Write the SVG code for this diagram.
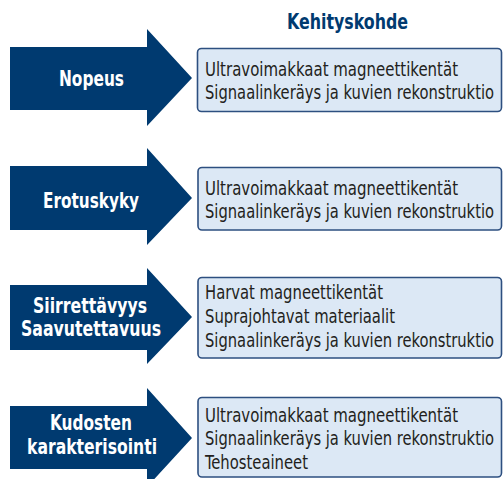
<svg xmlns="http://www.w3.org/2000/svg" width="503" height="479" viewBox="0 0 503 479">
<style>
.arrow{fill:#003a70}
.box{fill:#dce8f5;stroke:#2d4f80;stroke-width:1.6}
.lbl{font-family:"Liberation Sans Narrow","DejaVu Sans Condensed","Liberation Sans",sans-serif;font-weight:bold;font-size:22px;fill:#ffffff;text-anchor:middle}
.item{font-family:"Liberation Sans Narrow","DejaVu Sans Condensed","Liberation Sans",sans-serif;font-size:19.5px;fill:#231f20}
.head{font-family:"Liberation Sans Narrow","DejaVu Sans Condensed","Liberation Sans",sans-serif;font-weight:bold;font-size:22px;fill:#003a70;text-anchor:middle}
</style>
<rect width="503" height="479" fill="#ffffff"/>
<text class="head" x="347.5" y="29" textLength="121" lengthAdjust="spacingAndGlyphs">Kehityskohde</text>
<g id="connectors"/>
<g id="arrow1">
<polygon class="arrow" points="10,47 147,47 147,29 192,78 147,126 147,110 10,110"/>
<text class="lbl" x="91.5" y="86" textLength="65" lengthAdjust="spacingAndGlyphs">Nopeus</text>
</g>
<g id="box1">
<rect class="box" x="197.5" y="48.5" width="304" height="63" rx="4"/>
<text class="item" x="205" y="76" textLength="253" lengthAdjust="spacingAndGlyphs">Ultravoimakkaat magneettikentät</text>
<text class="item" x="205" y="99" textLength="289" lengthAdjust="spacingAndGlyphs">Signaalinkeräys ja kuvien rekonstruktio</text>
</g>
<g id="arrow2">
<polygon class="arrow" points="10,166 147,166 147,148 192,198 147,245 147,230 10,230"/>
<text class="lbl" x="91" y="208" textLength="96" lengthAdjust="spacingAndGlyphs">Erotuskyky</text>
</g>
<g id="box2">
<rect class="box" x="198" y="167.5" width="303.5" height="62.5" rx="4"/>
<text class="item" x="205" y="195" textLength="253" lengthAdjust="spacingAndGlyphs">Ultravoimakkaat magneettikentät</text>
<text class="item" x="205" y="218" textLength="289" lengthAdjust="spacingAndGlyphs">Signaalinkeräys ja kuvien rekonstruktio</text>
</g>
<g id="arrow3">
<polygon class="arrow" points="10,285 147,285 147,268 192,317 147,364 147,350 10,350"/>
<text class="lbl" x="90" y="313" textLength="114" lengthAdjust="spacingAndGlyphs">Siirrettävyys</text>
<text class="lbl" x="91" y="336" textLength="140" lengthAdjust="spacingAndGlyphs">Saavutettavuus</text>
</g>
<g id="box3">
<rect class="box" x="198" y="277.5" width="303.5" height="80.5" rx="4"/>
<text class="item" x="205" y="299" textLength="178" lengthAdjust="spacingAndGlyphs">Harvat magneettikentät</text>
<text class="item" x="205" y="323" textLength="190" lengthAdjust="spacingAndGlyphs">Suprajohtavat materiaalit</text>
<text class="item" x="205" y="347" textLength="289" lengthAdjust="spacingAndGlyphs">Signaalinkeräys ja kuvien rekonstruktio</text>
</g>
<g id="arrow4">
<polygon class="arrow" points="10,406 147,406 147,388 192,438 147,487 147,469 10,469"/>
<text class="lbl" x="91" y="430" textLength="82" lengthAdjust="spacingAndGlyphs">Kudosten</text>
<text class="lbl" x="92" y="454" textLength="130" lengthAdjust="spacingAndGlyphs">karakterisointi</text>
</g>
<g id="box4">
<rect class="box" x="198" y="397.5" width="303.5" height="79.5" rx="4"/>
<text class="item" x="205" y="422" textLength="253" lengthAdjust="spacingAndGlyphs">Ultravoimakkaat magneettikentät</text>
<text class="item" x="205" y="445" textLength="289" lengthAdjust="spacingAndGlyphs">Signaalinkeräys ja kuvien rekonstruktio</text>
<text class="item" x="205" y="469" textLength="103" lengthAdjust="spacingAndGlyphs">Tehosteaineet</text>
</g>
</svg>
